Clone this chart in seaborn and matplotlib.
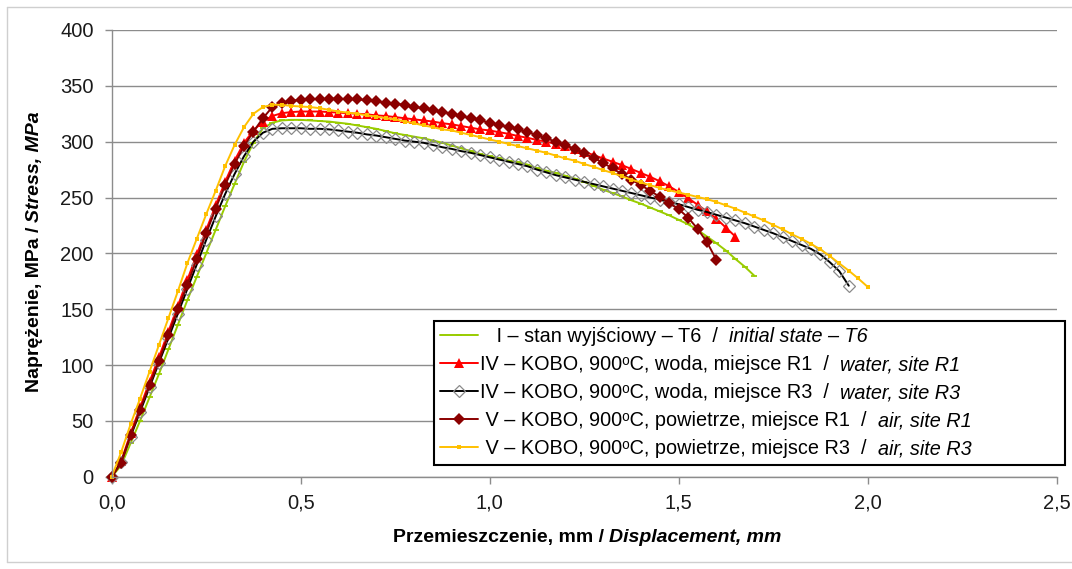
import matplotlib
matplotlib.use("Agg")
import matplotlib.pyplot as plt
import seaborn as sns
from matplotlib.lines import Line2D

# ── Data ────────────────────────────────────────────────────────────────────
# displacement grid, mm (8 values per row = 0.2 mm)
DISP = [
    0.000, 0.025, 0.050, 0.075, 0.100, 0.125, 0.150, 0.175,
    0.200, 0.225, 0.250, 0.275, 0.300, 0.325, 0.350, 0.375,
    0.400, 0.425, 0.450, 0.475, 0.500, 0.525, 0.550, 0.575,
    0.600, 0.625, 0.650, 0.675, 0.700, 0.725, 0.750, 0.775,
    0.800, 0.825, 0.850, 0.875, 0.900, 0.925, 0.950, 0.975,
    1.000, 1.025, 1.050, 1.075, 1.100, 1.125, 1.150, 1.175,
    1.200, 1.225, 1.250, 1.275, 1.300, 1.325, 1.350, 1.375,
    1.400, 1.425, 1.450, 1.475, 1.500, 1.525, 1.550, 1.575,
    1.600, 1.625, 1.650, 1.675, 1.700, 1.725, 1.750, 1.775,
    1.800, 1.825, 1.850, 1.875, 1.900, 1.925, 1.950, 1.975,
    2.000,
]

# stress, MPa
STRESS_T6 = [
    0, 10, 30, 50, 71, 92, 114, 136,
    158, 179, 200, 221, 242, 262, 282, 299,
    312, 317, 319, 319.5, 319.5, 319, 318.5, 318,
    317, 316, 314.5, 313, 311.5, 309.5, 307.5, 306,
    304.5, 303, 301, 299, 296.5, 294, 291.5, 289,
    287, 285, 283, 281.5, 279.5, 276, 274, 272,
    269.5, 267, 264, 260.5, 257, 254, 251, 247.5,
    244.5, 241, 237.5, 234, 230, 226, 221, 215,
    209, 202.5, 195, 188, 180,
]
STRESS_WATER_R1 = [
    0, 14, 39, 62, 85, 107, 130, 153,
    176, 199, 221, 243, 264, 283, 299, 310,
    318, 323, 325.5, 326.5, 327, 327, 327, 326.5,
    326, 325.5, 325, 324.5, 323.5, 323, 322, 321,
    320, 319, 318, 316.5, 315.5, 314, 312.5, 311,
    310, 308.5, 307, 305, 303.5, 301.5, 300, 298,
    296, 293.5, 291, 288, 285, 282, 279, 275.5,
    272, 268.5, 264.5, 260, 255, 249.5, 243.5, 237.5,
    231, 223, 215,
]
STRESS_WATER_R3 = [
    0, 13, 36, 58, 80, 102, 124, 146,
    168, 190, 212, 233, 253, 271, 287, 300,
    308, 311.5, 312, 312, 312, 311.5, 311.5, 311,
    310, 309, 308, 306.5, 305.5, 304, 302.5, 301,
    300, 299, 297, 295, 293.5, 291.5, 290, 288,
    286, 284, 282, 280, 278, 275, 272.5, 270,
    268, 266, 264, 262, 260, 258, 256, 254,
    252, 250, 248, 246, 244, 241.5, 239, 237,
    234.5, 232, 229.5, 227, 224, 221, 218, 214.5,
    211, 207.5, 204, 199, 192, 184, 171,
]
STRESS_AIR_R1 = [
    0, 12, 37, 60, 82, 104, 127, 150,
    172, 195, 218, 240, 261, 280, 296, 309,
    321, 331, 335, 336.5, 337.5, 338, 338, 338.5,
    338.5, 338, 338, 337, 336, 335, 334, 333,
    331, 330, 328, 326.5, 325, 323, 321, 319,
    317, 315, 313, 311, 308.5, 306, 303, 300,
    297, 293.5, 289.5, 285.5, 281, 276, 271, 266,
    261, 256, 250.5, 245, 239.5, 232, 222, 210,
    194,
]
STRESS_AIR_R3 = [
    0, 22, 47, 70, 94, 118, 142, 166,
    191, 213, 235, 256, 278, 297, 313, 325,
    331, 333, 333, 332, 331.5, 331, 330, 328.5,
    327, 326, 325, 323.5, 322.5, 321, 320, 318,
    316.5, 314.5, 313, 311, 310, 308, 306, 304,
    302, 300, 298, 296, 294, 292, 290, 287.5,
    285, 283, 280, 277.5, 274.5, 272, 269, 266,
    263.5, 261, 258.5, 256.5, 254.5, 252.5, 250.5, 248.5,
    246, 243, 240, 236.5, 233, 229.5, 225.5, 221.5,
    217, 213, 208.5, 203.5, 197.5, 191, 184.5, 177.5,
    170,
]

# legend: Polish part (upright) + English part (italic)
LABELS_PL = [
    "   I – stan wyjściowy – T6  /",
    "IV – KOBO, 900ᵒC, woda, miejsce R1  /",
    "IV – KOBO, 900ᵒC, woda, miejsce R3  /",
    " V – KOBO, 900ᵒC, powietrze, miejsce R1  /",
    " V – KOBO, 900ᵒC, powietrze, miejsce R3  /",
]
LABELS_EN = [
    "initial state – T6",
    "water, site R1",
    "water, site R3",
    "air, site R1",
    "air, site R3",
]

X_TICKS = [0.0, 0.5, 1.0, 1.5, 2.0, 2.5]
X_TICK_LABELS = ["0,0", "0,5", "1,0", "1,5", "2,0", "2,5"]
Y_TICKS = [0, 50, 100, 150, 200, 250, 300, 350, 400]

# ── Style ───────────────────────────────────────────────────────────────────
sns.set_theme(style="white")
plt.rcParams["font.family"] = ["Liberation Sans", "DejaVu Sans"]

GRID_GRAY = "#8c8c8c"
W_PX, H_PX = 1072, 569
LEG_FS = 14.3

styles = [
    dict(color="#99CC00", marker="_", markersize=4.5, markeredgewidth=1.3,
         markeredgecolor="#99CC00"),
    dict(color="#FF0000", marker="^", markersize=7.5, markeredgewidth=0),
    dict(color="#000000", marker="D", markersize=6, markerfacecolor="none",
         markeredgecolor="#8a8a8a", markeredgewidth=0.9),
    dict(color="#8B0000", marker="D", markersize=6.5, markeredgewidth=0),
    dict(color="#FFC000", marker="s", markersize=3.5, markeredgewidth=0),
]
series = [STRESS_T6, STRESS_WATER_R1, STRESS_WATER_R3, STRESS_AIR_R1, STRESS_AIR_R3]

fig = plt.figure(figsize=(W_PX / 100, H_PX / 100), dpi=100)
ax = fig.add_axes([0.1042, 0.1622, 0.8815, 0.7851])

for stress, label, st in zip(series, LABELS_PL, styles):
    sns.lineplot(x=DISP[:len(stress)], y=stress, ax=ax, label=label,
                 sort=False, errorbar=None, linewidth=1.4, clip_on=False, **st)

ax.set_xlim(0, 2.5)
ax.set_ylim(0, 400)
ax.set_xticks(X_TICKS)
ax.set_xticklabels(X_TICK_LABELS)
ax.set_yticks(Y_TICKS)
ax.tick_params(axis="both", labelsize=14.5, colors=GRID_GRAY, labelcolor="#1a1a1a",
               direction="out", length=5, width=1, left=True, bottom=True)
ax.tick_params(axis="y", pad=8)
ax.tick_params(axis="x", pad=7)
ax.yaxis.grid(True, color=GRID_GRAY, linewidth=1)
ax.xaxis.grid(False)
for side in ["top", "right"]:
    ax.spines[side].set_visible(False)
for side in ["left", "bottom"]:
    ax.spines[side].set_color(GRID_GRAY)
    ax.spines[side].set_linewidth(1)
ax.set_xlabel("")
ax.set_ylabel("")

leg = ax.legend(loc="upper left", bbox_to_anchor=(0.341, 0.0336, 0.668, 0.3154),
                mode="expand", fontsize=LEG_FS, frameon=True, fancybox=False,
                framealpha=1, edgecolor="black", borderaxespad=0,
                labelspacing=0.45, handlelength=1.9, handletextpad=0.1,
                borderpad=0.33, labelcolor="black")
leg.get_frame().set_linewidth(1.5)

# light outer border (left, top, bottom) round the chart
for xs, ys in [([7, 7], [7, 562]), ([7, W_PX], [7, 7]), ([7, W_PX], [562, 562])]:
    fig.add_artist(Line2D([x / W_PX for x in xs], [1 - y / H_PX for y in ys],
                          transform=fig.transFigure, color="#cfcfcf", linewidth=1))

fig.canvas.draw()
renderer = fig.canvas.get_renderer()

# italic English part after each legend label
for t, suffix in zip(leg.get_texts(), LABELS_EN):
    bb = t.get_window_extent(renderer)
    _, y_base = t.get_transform().transform(t.get_position())
    fig.text((bb.x1 + 11) / W_PX, y_base / H_PX, suffix, ha="left", va="baseline",
             fontsize=LEG_FS, style="italic", color="black")


def mixed_label(parts, center, base, rotation=0, gap=5):
    """Bold label made of an upright and an italic part, centred on `center` (px)."""
    texts = [fig.text(0, 0, s, fontsize=14, fontweight="bold", style=sty,
                      color="black", rotation=rotation, rotation_mode="anchor",
                      ha="left", va="baseline") for s, sty in parts]
    sizes = []
    for t in texts:
        bb = t.get_window_extent(renderer)
        sizes.append(bb.height if rotation else bb.width)
    pos = center - (sum(sizes) + gap * (len(sizes) - 1)) / 2
    for t, size in zip(texts, sizes):
        if rotation:
            t.set_position((base / W_PX, pos / H_PX))
        else:
            t.set_position((pos / W_PX, base / H_PX))
        pos += size + gap


mixed_label([("Przemieszczenie, mm /", "normal"), ("Displacement, mm", "italic")],
            center=586.7, base=H_PX - 541.7)
mixed_label([("Naprężenie, MPa /", "normal"), ("Stress, MPa", "italic")],
            center=H_PX - 251.7, base=39, rotation=90)

fig.savefig("out.png", dpi=100)
